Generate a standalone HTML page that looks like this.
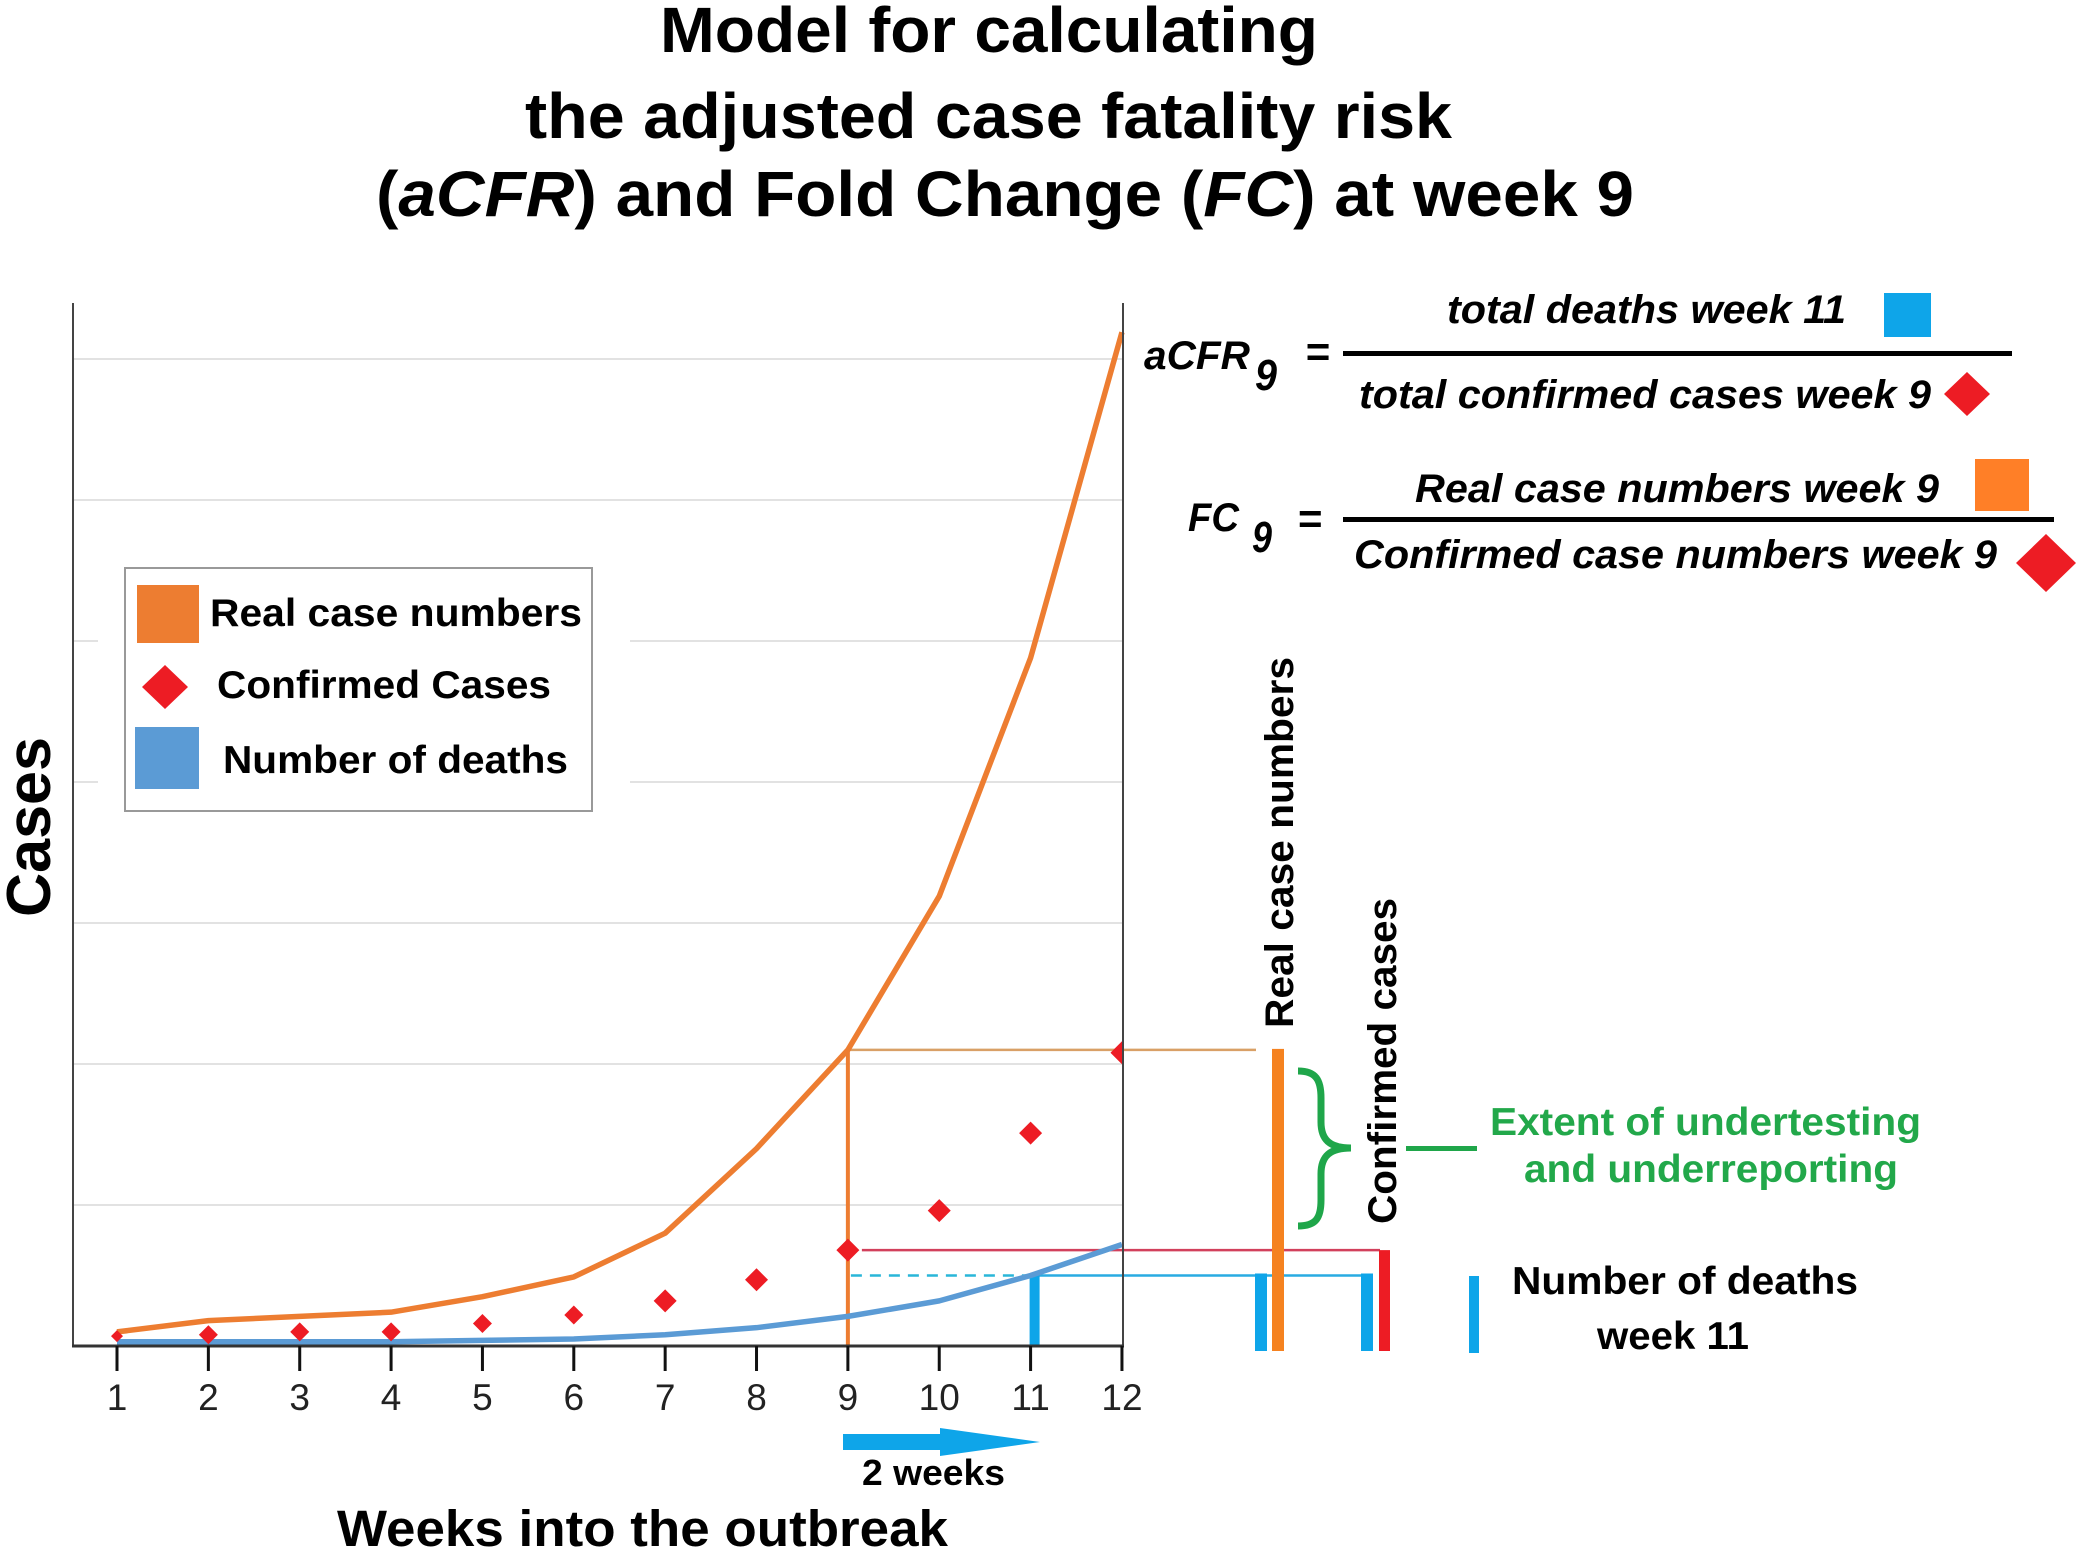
<!DOCTYPE html>
<html lang="en">
<head>
<meta charset="utf-8">
<title>Model for calculating the adjusted case fatality risk</title>
<style>
  html, body { margin: 0; padding: 0; background: #fff; }
  svg { display: block; }
  text { font-family: "Liberation Sans", Arial, sans-serif; font-weight: bold; fill: #000; }
  .it { font-style: italic; }
</style>
</head>
<body>
<svg id="chart" xmlns="http://www.w3.org/2000/svg" width="2083" height="1554" viewBox="0 0 2083 1554">
  <defs>
    <clipPath id="plot-clip"><rect x="60" y="300" width="1062" height="1060"/></clipPath>
  </defs>
  <rect x="0" y="0" width="2083" height="1554" fill="#fff"/>

  <g font-size="64" text-anchor="start">
    <text x="660" y="52" textLength="658" lengthAdjust="spacingAndGlyphs">Model for calculating</text>
    <text x="525" y="138" textLength="927" lengthAdjust="spacingAndGlyphs">the adjusted case fatality risk</text>
    <text x="376" y="216" textLength="1258" lengthAdjust="spacingAndGlyphs">(<tspan class="it">aCFR</tspan>) and Fold Change (<tspan class="it">FC</tspan>) at week 9</text>
  </g>

  <g id="grid-layer"></g>
  <rect x="98" y="555" width="532" height="265" fill="#fff"/>
  <g id="guide-layer"></g>
  <g id="series-layer"></g>
  <g id="axis-layer"></g>

  <text transform="translate(50,917) rotate(-90)" font-size="62" textLength="180" lengthAdjust="spacingAndGlyphs">Cases</text>
  <text x="337" y="1546" font-size="51" textLength="611" lengthAdjust="spacingAndGlyphs">Weeks into the outbreak</text>

  <polygon points="843,1434 940,1434 940,1428 1040,1442 940,1456 940,1450 843,1450" fill="#0ea5e9"/>
  <text x="862" y="1485" font-size="36" textLength="143" lengthAdjust="spacingAndGlyphs">2 weeks</text>

  <g>
    <rect x="125" y="568" width="467" height="243" fill="#fff" stroke="#999" stroke-width="2"/>
    <rect x="137" y="585" width="62" height="58" fill="#ed7d31"/>
    <text x="210" y="626" font-size="39" textLength="372" lengthAdjust="spacingAndGlyphs">Real case numbers</text>
    <polygon points="165,665 188,687 165,709 142,687" fill="#ed1c24"/>
    <text x="217" y="698" font-size="39" textLength="334" lengthAdjust="spacingAndGlyphs">Confirmed Cases</text>
    <rect x="135" y="727" width="64" height="62" fill="#5b9bd5"/>
    <text x="223" y="773" font-size="39" textLength="345" lengthAdjust="spacingAndGlyphs">Number of deaths</text>
  </g>

  <g class="it" font-size="40">
    <text class="it" x="1144" y="369" textLength="106" lengthAdjust="spacingAndGlyphs">aCFR</text>
    <text class="it" x="1255" y="390" font-size="44" textLength="22" lengthAdjust="spacingAndGlyphs">9</text>
    <text x="1305" y="366" font-size="42">=</text>
    <text class="it" x="1447" y="323" textLength="399" lengthAdjust="spacingAndGlyphs">total deaths week 11</text>
    <rect x="1343" y="351" width="669" height="5" fill="#000"/>
    <text class="it" x="1359" y="408" textLength="572" lengthAdjust="spacingAndGlyphs">total confirmed cases week 9</text>
    <rect x="1884" y="293" width="47" height="44" fill="#0ea5e9"/>
    <polygon points="1967,372 1990,394 1967,416 1944,394" fill="#ed1c24"/>
  </g>

  <g font-size="40">
    <text class="it" x="1188" y="531" textLength="51" lengthAdjust="spacingAndGlyphs">FC</text>
    <text class="it" x="1252" y="552" font-size="44" textLength="20" lengthAdjust="spacingAndGlyphs">9</text>
    <text x="1298" y="533" font-size="42">=</text>
    <text class="it" x="1415" y="502" textLength="524" lengthAdjust="spacingAndGlyphs">Real case numbers week 9</text>
    <rect x="1343" y="517" width="711" height="5" fill="#000"/>
    <text class="it" x="1354" y="568" textLength="643" lengthAdjust="spacingAndGlyphs">Confirmed case numbers week 9</text>
    <rect x="1975" y="459" width="54" height="52" fill="#ff7f27"/>
    <polygon points="2046,534 2076,563 2046,592 2016,563" fill="#ed1c24"/>
  </g>

  <g id="compare-layer"></g>

  <text transform="translate(1293,1028) rotate(-90)" font-size="40" textLength="371" lengthAdjust="spacingAndGlyphs">Real case numbers</text>
  <text transform="translate(1396,1224) rotate(-90)" font-size="40" textLength="326" lengthAdjust="spacingAndGlyphs">Confirmed cases</text>

  <path d="M1298,1071 C1316,1071 1321,1080 1321,1098 L1321,1122 C1321,1140 1330,1148 1351,1148 C1330,1148 1321,1156 1321,1174 L1321,1200 C1321,1218 1316,1226 1298,1226" fill="none" stroke="#1fa64a" stroke-width="7"/>
  <rect x="1406" y="1146" width="71" height="5" fill="#1fa64a"/>
  <text x="1490" y="1135" font-size="39" style="fill:#22a84a" textLength="431" lengthAdjust="spacingAndGlyphs">Extent of undertesting</text>
  <text x="1524" y="1182" font-size="39" style="fill:#22a84a" textLength="374" lengthAdjust="spacingAndGlyphs">and underreporting</text>

  <rect x="1469" y="1276" width="10" height="77" fill="#0ea5e9"/>
  <text x="1512" y="1294" font-size="39" textLength="346" lengthAdjust="spacingAndGlyphs">Number of deaths</text>
  <text x="1597" y="1349" font-size="39" textLength="152" lengthAdjust="spacingAndGlyphs">week 11</text>

<script>
const weeks = [1, 2, 3, 4, 5, 6, 7, 8, 9, 10, 11, 12];
const tickLabels = ["1", "2", "3", "4", "5", "6", "7", "8", "9", "10", "11", "12"];
const yGridValues = [100, 200, 300, 400, 500, 600, 700];
const realCases = [10, 18, 21, 24, 35, 49, 80, 140, 210, 319, 488, 719];
const confirmedCases = [7, 8, 10, 10, 16, 22, 32, 47, 68, 96, 151, 208];
const deaths = [3, 3, 3, 3, 4, 5, 8, 13, 21, 32, 50, 72];

const SVG_NS = "http://www.w3.org/2000/svg";
function xScale(week) { return 117 + (week - 1) * 91.36; }
function yScale(value) { return 1346 - value * 1.41; }
function make(parent, tag, attrs) {
  const el = document.createElementNS(SVG_NS, tag);
  Object.keys(attrs).forEach(function (k) { el.setAttribute(k, attrs[k]); });
  parent.appendChild(el);
  return el;
}
const gridLayer = document.getElementById("grid-layer");
const guideLayer = document.getElementById("guide-layer");
const seriesLayer = document.getElementById("series-layer");
const axisLayer = document.getElementById("axis-layer");
const compareLayer = document.getElementById("compare-layer");

yGridValues.forEach(function (v) {
  const el = make(gridLayer, "line", { x1: 74, x2: 1122, y1: yScale(v), y2: yScale(v), stroke: "#e2e2e2", "stroke-width": 2 });
  
  
});

const week9 = 8, week11 = 10;
const realY = yScale(realCases[week9]);
const confY = yScale(confirmedCases[week9]);
const deathY = yScale(deaths[week11]);

const realGuide = make(guideLayer, "line", { x1: xScale(9), x2: 1256, y1: realY, y2: realY, stroke: "#d9a066", "stroke-width": 2.5 });



const confGuide = make(guideLayer, "line", { x1: xScale(9) + 14, x2: 1380, y1: confY, y2: confY, stroke: "#d2405c", "stroke-width": 2.5 });



const dashGuide = make(guideLayer, "line", { x1: xScale(9) + 3, x2: xScale(11), y1: deathY, y2: deathY, stroke: "#29b6d8", "stroke-width": 2.5, "stroke-dasharray": "11 8" });



const deathGuide = make(guideLayer, "line", { x1: xScale(11), x2: 1364, y1: deathY, y2: deathY, stroke: "#29abe2", "stroke-width": 2.5 });



const week9Drop = make(guideLayer, "line", { x1: xScale(9), x2: xScale(9), y1: realY, y2: 1346, stroke: "#ed7d31", "stroke-width": 4 });



const week11Drop = make(guideLayer, "rect", { x: xScale(11) - 1, y: deathY, width: 10, height: 1346 - deathY, fill: "#0ea5e9" });



function linePoints(values) {
  return values.map(function (v, i) { return xScale(weeks[i]) + "," + yScale(v); }).join(" ");
}
const realLine = make(seriesLayer, "polyline", { points: linePoints(realCases), fill: "none", stroke: "#ed7d31", "stroke-width": 5.5, "stroke-linejoin": "round" });



const deathLine = make(seriesLayer, "polyline", { points: linePoints(deaths), fill: "none", stroke: "#5b9bd5", "stroke-width": 5.5, "stroke-linejoin": "round" });



const markerGroup = make(seriesLayer, "g", { "clip-path": "url(#plot-clip)" });


confirmedCases.forEach(function (v, i) {
  const cx = xScale(weeks[i]);
  const cy = yScale(v);
  const r = i === 0 ? 6 : (i < 6 ? 9.5 : 11.5);
  const el = make(markerGroup, "polygon", {
    points: [cx, cy - r, cx + r, cy, cx, cy + r, cx - r, cy].join(" "),
    fill: "#ed1c24"
  });
  
  
});

const yAxis = make(axisLayer, "line", { x1: 73, x2: 73, y1: 303, y2: 1347, stroke: "#444", "stroke-width": 2 });



const rightAxis = make(axisLayer, "line", { x1: 1123, x2: 1123, y1: 303, y2: 1347, stroke: "#444", "stroke-width": 2 });



const xAxis = make(axisLayer, "line", { x1: 72, x2: 1124, y1: 1346, y2: 1346, stroke: "#333", "stroke-width": 3 });



weeks.forEach(function (w, i) {
  const tick = make(axisLayer, "line", { x1: xScale(w), x2: xScale(w), y1: 1346, y2: 1371, stroke: "#111", "stroke-width": 3 });
  
  
  const label = make(axisLayer, "text", { x: xScale(w), y: 1410, "text-anchor": "middle", "font-size": 37, style: "font-weight:normal;fill:#222" });
  label.textContent = tickLabels[i];
  
  
});

const cmpBottom = 1351;
const bar1 = make(compareLayer, "rect", { x: 1255, y: deathY - 2, width: 12, height: cmpBottom - deathY + 2, fill: "#0ea5e9" });



const bar2 = make(compareLayer, "rect", { x: 1272, y: realY - 1, width: 12, height: cmpBottom - realY + 1, fill: "#f58220" });



const bar3 = make(compareLayer, "rect", { x: 1361, y: deathY - 2, width: 12, height: cmpBottom - deathY + 2, fill: "#0ea5e9" });



const bar4 = make(compareLayer, "rect", { x: 1379, y: confY, width: 11, height: cmpBottom - confY, fill: "#ed1c24" });


</script>
</svg>
</body>
</html>
